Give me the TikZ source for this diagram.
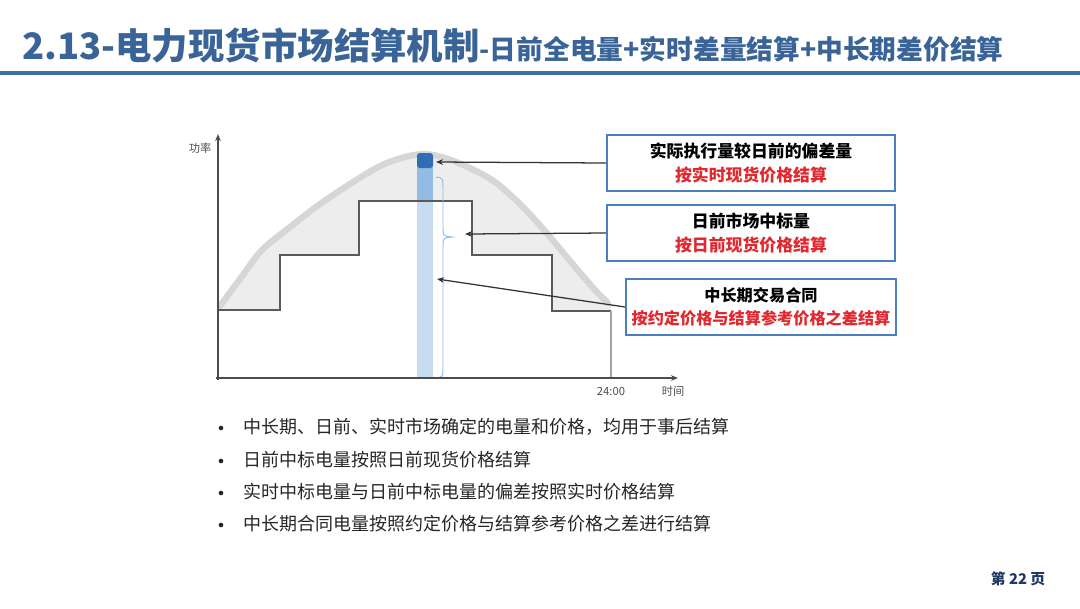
\documentclass[tikz,border=0pt]{standalone}
\usepackage{fontspec}
\usepackage{xcolor}
\setmainfont{Noto Sans CJK SC}
\usetikzlibrary{arrows.meta, positioning}

\definecolor{titleblue}{HTML}{3A6497}
\definecolor{ruleblue}{HTML}{3E6F9E}
\definecolor{boxblue}{HTML}{4A80C0}
\definecolor{navy}{HTML}{1F3864}
\definecolor{bardark}{HTML}{2F6DB5}
\definecolor{barmid}{HTML}{93BCE4}
\definecolor{barlight}{HTML}{C8DCF1}
\definecolor{bandgray}{HTML}{D6D6D6}
\definecolor{areagray}{HTML}{EDEDED}
\definecolor{stepgray}{HTML}{5A5A5A}
\definecolor{txtred}{HTML}{E0282E}

\begin{document}
\begin{tikzpicture}[x=0.025cm, y=-0.025cm,
  infobox/.style={draw=boxblue, line width=1.4pt, fill=white, align=center,
    minimum height=1.4cm, inner sep=2pt, font=\fontsize{12}{16.5}\selectfont\bfseries},
  pointer/.style={-{Stealth[length=5pt, width=4pt]}, line width=0.9pt, draw=black!80},
  axis/.style={-{Stealth[length=5pt, width=4pt]}, line width=1pt, draw=black!70},
  axislabel/.style={font=\fontsize{8}{9}\selectfont, text=black!70, inner sep=0pt},
  bulletdot/.style={circle, fill=black!85, inner sep=0pt, minimum size=3.3pt},
  bullettext/.style={anchor=west, inner sep=0pt, text=black!85, font=\fontsize{12.8}{16}\selectfont}]
  \useasboundingbox (0,0) rectangle (1080,608);

  % title and rule
  \node[anchor=base west, inner sep=0pt, text=titleblue] (title) at (22,59)
    {{\fontsize{25.9}{30}\selectfont\bfseries 2.13-电力现货市场结算机制}{\fontsize{19}{22}\selectfont\bfseries -日前全电量+实时差量结算+中长期差价结算}};
  \draw[ruleblue, line width=2.2pt] (0,73) -- (1080,73);

  % gray area between actual curve and day-ahead steps
  \fill[areagray] plot[smooth] coordinates {(218,310) (240,281) (262,252) (290,229) (320,206) (350,186) (380,168) (405,158) (425,155) (445,159) (470,169) (495,183) (520,205) (545,232) (570,262) (595,290) (611,306)}
    -- (611,311) -- (552,311) -- (552,255) -- (472,255) -- (472,201) -- (359,201)
    -- (359,255) -- (280,255) -- (280,310) -- cycle;
  % actual load curve
  \draw[bandgray, line width=4.5pt, line cap=round] plot[smooth] coordinates {(220,306) (240,279) (262,250) (290,227) (320,204) (350,184) (380,166) (405,157) (425,154) (445,158) (470,168) (495,182) (520,204) (545,231) (570,261) (595,290) (608,303)};

  % real-time bar
  \fill[barlight] (417,200) rectangle (433,378);
  \fill[barmid] (417,166) rectangle (433,201);
  \fill[bardark, rounded corners=2pt] (417,153) rectangle (433,168);

  % day-ahead steps
  \draw[stepgray, line width=1.3pt] (218,310) -- (280,310) -- (280,255) -- (359,255) -- (359,201)
    -- (472,201) -- (472,255) -- (552,255) -- (552,311) -- (611,311);
  \draw[black!35, line width=0.8pt] (611,311) -- (611,378);

  % brace
  \draw[barmid, line width=0.7pt] (436,177) .. controls (443,178) .. (443,190) -- (443,228)
    .. controls (443,236) .. (452,237) .. controls (443,238) .. (443,246) -- (443,366)
    .. controls (443,377) .. (436,378);

  % axes
  \draw[axis] (218,380) -- (218,134);
  \draw[axis] (216,378) -- (678,378);
  \node[axislabel] (ylab) at (200,148) {功率};
  \node[axislabel] (tend) at (611,391) {24:00};
  \node[axislabel] (xlab) at (673,391) {时间};

  % explanation boxes
  \node[infobox, minimum width=7.2cm] (b1) at (751,163)
    {实际执行量较日前的偏差量\\\textcolor{txtred}{按实时现货价格结算}};
  \node[infobox, minimum width=7.2cm] (b2) at (751,233)
    {日前市场中标量\\\textcolor{txtred}{按日前现货价格结算}};
  \node[infobox, minimum width=6.75cm, font=\fontsize{11.5}{16.5}\selectfont\bfseries] (b3) at (761,307)
    {中长期交易合同\\\textcolor{txtred}{按约定价格与结算参考价格之差结算}};

  \coordinate (dev) at (436,162);
  \coordinate (da) at (465,234);
  \coordinate (mlt) at (437,279);
  \draw[pointer] (b1.west) -- (dev);
  \draw[pointer] (b2.west) -- (da);
  \draw[pointer] (b3.west) -- (mlt);

  % bullet list
  \foreach \y/\t [count=\i] in {427/中长期、日前、实时市场确定的电量和价格，均用于事后结算,
      460/日前中标电量按照日前现货价格结算,
      492/实时中标电量与日前中标电量的偏差按照实时价格结算,
      524/中长期合同电量按照约定价格与结算参考价格之差进行结算} {
    \node[bulletdot] (dot\i) at (221,\y+1) {};
    \node[bullettext] (line\i) at (243,\y) {\t};
  }

  % page number
  \node[inner sep=0pt, text=navy, font=\fontsize{10.5}{12}\selectfont\bfseries] (page) at (1018,579) {第 22 页};
\end{tikzpicture}
\end{document}
